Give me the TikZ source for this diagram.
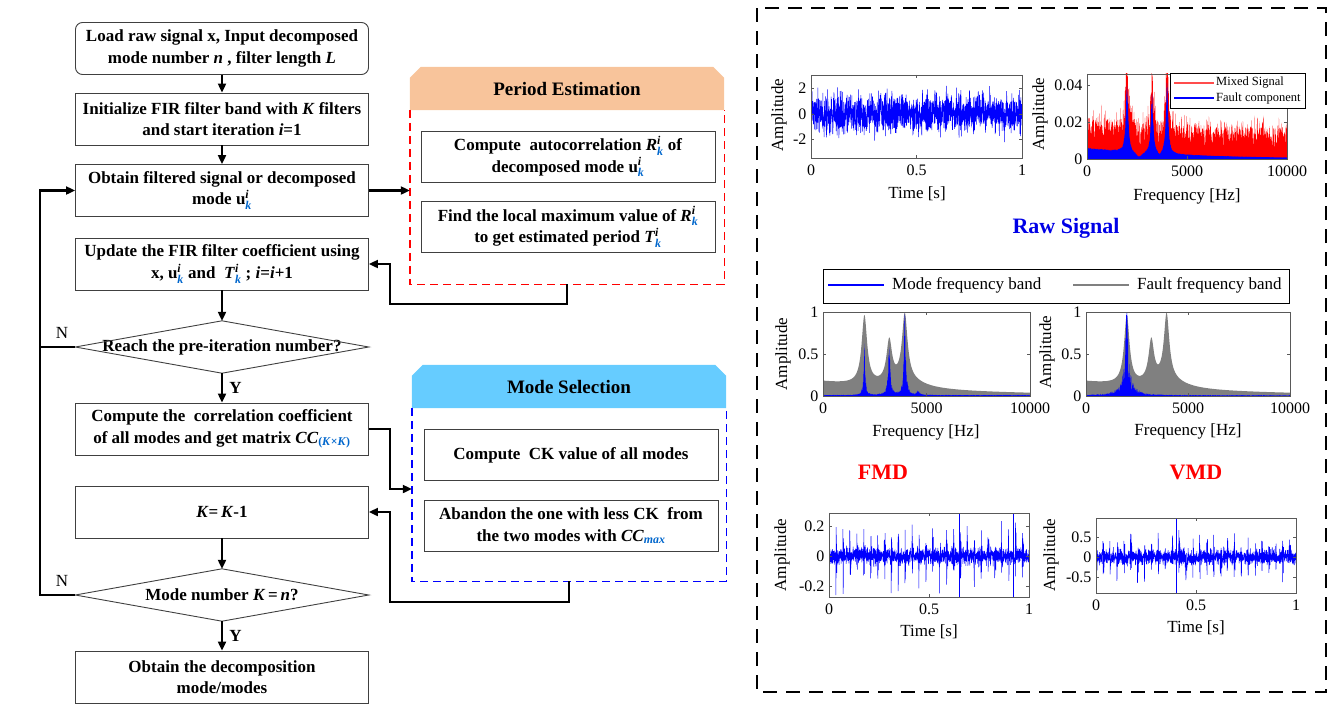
\documentclass[tikz,border=0pt]{standalone}
\usepackage{amsmath}
\usepackage{xcolor}
\usepackage{fontspec}
\setmainfont{Liberation Serif}
\usepackage{tikz}
\usetikzlibrary{arrows.meta,calc,backgrounds}

\definecolor{kblue}{RGB}{0,102,204}
\definecolor{peach}{RGB}{248,196,155}
\definecolor{skyhead}{RGB}{102,204,255}
\definecolor{sigblue}{RGB}{0,0,255}
\definecolor{bandgray}{RGB}{128,128,128}
\definecolor{titleblue}{RGB}{0,0,230}

\newcommand{\flowfont}{\fontsize{17}{21.5}\selectfont\bfseries}
\newcommand{\headfont}{\fontsize{19}{22}\selectfont\bfseries}
\newcommand{\labfont}{\fontsize{17}{20}\selectfont}
\newcommand{\tickfont}{\fontsize{16}{18}\selectfont}
\newcommand{\legfont}{\fontsize{12.5}{14}\selectfont}
\newcommand{\bigfont}{\fontsize{22}{24}\selectfont\bfseries}
\newcommand{\ki}{$^{\text{\textit{i}}}_{\text{\textcolor{kblue}{\textit{k}}}}$}

\tikzset{
  flowbox/.style={draw=black!75, line width=0.9pt, minimum width=293pt, minimum height=52pt,
    align=center, font=\flowfont, inner sep=0pt},
  startbox/.style={flowbox, rounded corners=7pt},
  choice/.style={minimum width=293pt, minimum height=52pt, align=center, font=\flowfont, inner sep=0pt},
  innerbox/.style={flowbox, minimum width=294pt, minimum height=51pt},
  groupbox/.style={minimum width=314pt, minimum height=174pt, inner sep=0pt},
  headbox/.style={minimum width=314pt, minimum height=43pt, inner sep=0pt, font=\headfont},
  flowline/.style={line width=2.1pt},
  flowarrow/.style={flowline, -{Triangle[length=9pt,width=8pt]}},
  groupline/.style={dash pattern=on 8pt off 5pt, line width=1.4pt},
  axisline/.style={black!65, line width=0.8pt},
  signal/.style={sigblue, line width=0.5pt},
}

\pgfmathsetseed{11}

\begin{document}
\begin{tikzpicture}[x=1pt,y=-1pt,
  declare function={
    lor(\f,\a,\c,\w)=\a*\w*\w/(\w*\w+(\f-\c)*(\f-\c));
    rawfault(\f)=lor(\f,3.9,2,0.07)+lor(\f,3.2,3.25,0.07)+lor(\f,3.9,4,0.07)+0.62*exp(-\f/5)*(1-lor(\f,0.85,2.6,0.2)-lor(\f,0.8,3.63,0.12));
    band(\f)=lor(\f,0.81,2,0.16)+lor(\f,0.49,3.2,0.16)+lor(\f,0.78,3.95,0.16)+lor(\f,0.1,4,1)+0.16*exp(-\f/5.5)+0.01;
    fmdband(\f)=lor(\f,0.62,2,0.045)+lor(\f,0.62,3.2,0.065)+lor(\f,1.05,3.95,0.055)+lor(\f,0.05,4.6,0.08)+0.012;
    vmdband(\f)=lor(\f,0.95,2,0.06)+lor(\f,0.25,2,0.3)+0.01;
    pulse(\t)=max(0,1-mod(\t,0.0345)/0.008);
  }]
  \useasboundingbox (0,0) rectangle (1335,707);

  % flow chart
  \node[startbox] (b1) at (222,48.5) {Load raw signal x, Input decomposed\\mode number \textit{n} , filter length \textit{L}};
  \node[flowbox] (b2) at (222,119) {Initialize FIR filter band with \textit{K} filters\\and start iteration \textit{i}=1};
  \node[flowbox] (b3) at (222,190.5) {Obtain filtered signal or decomposed\\mode u\ki};
  \node[flowbox] (b4) at (222,264) {Update the FIR filter coefficient using\\x,\ u\ki\ and\ \ \textit{T}\ki\ ; \textit{i}=\textit{i}+1};
  \node[choice] (d1) at (222,347) {Reach the pre-iteration number?};
  \draw[black!75,line width=0.9pt] (d1.west) -- (d1.north) -- (d1.east) -- (d1.south) -- cycle;
  \node[flowbox] (b5) at (222,429) {Compute the\ \ correlation coefficient\\of all modes and get matrix \textit{CC}$_{\text{\textcolor{kblue}{(\textit{K}×\textit{K})}}}$};
  \node[flowbox] (b6) at (222,512) {\textit{K}=\,\textit{K}-1};
  \node[choice] (d2) at (222,595) {Mode number \textit{K}\,=\,\textit{n}?};
  \draw[black!75,line width=0.9pt] (d2.west) -- (d2.north) -- (d2.east) -- (d2.south) -- cycle;
  \node[flowbox] (b7) at (222,677) {Obtain the decomposition\\mode/modes};

  \draw[flowarrow] (b1) -- (b2);
  \draw[flowarrow] (b2) -- (b3);
  \draw[flowarrow] (b4) -- (d1.north);
  \draw[flowarrow] (d1.south) -- node[right=3pt,font=\labfont\bfseries] (y1) {Y} (b5);
  \draw[flowarrow] (b6) -- (d2.north);
  \draw[flowarrow] (d2.south) -- node[right=3pt,font=\labfont\bfseries] (y2) {Y} (b7);

  \coordinate (loopup) at (40,347);
  \coordinate (loopdn) at (40,595);
  \draw[flowline] (d2.west) -- (loopdn) -- (loopup);
  \draw[flowarrow] (d1.west) -- (loopup) |- (b3.west);
  \node[font=\labfont] (n1) at (62,333) {N};
  \node[font=\labfont] (n2) at (62,581) {N};

  % period estimation
  \node[groupbox] (pebox) at (567,197) {};
  \draw[groupline,red] (pebox.north west) -- (pebox.south west) -- (pebox.south east) -- (pebox.north east);
  \node[headbox] (pehead) at (567,88.5) {Period Estimation};
  \begin{scope}[on background layer]
    \fill[peach] (pehead.south west) -- ($(pehead.north west)+(0,11)$) -- ($(pehead.north west)+(11,0)$)
      -- ($(pehead.north east)+(-11,0)$) -- ($(pehead.north east)+(0,11)$) -- (pehead.south east) -- cycle;
  \end{scope}
  \node[innerbox] (pe1) at (568,156.5) {Compute\ \ autocorrelation \textit{R}\ki\ of\\decomposed mode u\ki};
  \node[innerbox] (pe2) at (568,227) {Find the local maximum value of \textit{R}\ki\\to get estimated period \textit{T}\ki};

  \draw[flowarrow] (b3.east) -- (b3.east -| pebox.west);
  \coordinate (peret) at (390,304);
  \draw[flowarrow] (pebox.south) |- (peret) |- (b4.east);

  % mode selection
  \node[groupbox,minimum height=173pt] (msbox) at (569,494.5) {};
  \draw[groupline,blue] (msbox.north west) -- (msbox.south west) -- (msbox.south east) -- (msbox.north east);
  \node[headbox] (mshead) at (569,386.5) {Mode Selection};
  \begin{scope}[on background layer]
    \fill[skyhead] (mshead.south west) -- ($(mshead.north west)+(0,11)$) -- ($(mshead.north west)+(11,0)$)
      -- ($(mshead.north east)+(-11,0)$) -- ($(mshead.north east)+(0,11)$) -- (mshead.south east) -- cycle;
  \end{scope}
  \node[innerbox] (ms1) at (571,455) {Compute\ \ CK value of all modes};
  \node[innerbox] (ms2) at (571,526) {Abandon the one with less CK\ \ from\\the two modes with \textit{CC}$_{\text{\textcolor{kblue}{\textit{max}}}}$};

  \coordinate (msin) at (390,489);
  \draw[flowarrow] (b5.east) -| (msin) -- (msin -| msbox.west);
  \coordinate (msret) at (390,602);
  \draw[flowarrow] (msbox.south) |- (msret) |- (b6.east);

  % results panel
  \draw[line width=1.8pt,dash pattern=on 14pt off 9pt] (757,8) rectangle (1326,692);

  % raw signal, time
  \begin{scope}[shift={(811,114)},x=211pt,y=12.75pt]
    \begin{scope}
      \clip (0,-3.45) rectangle (1,3.06);
      \draw[signal] plot[samples=1500,domain=0:1] (\x,{0.68*(rand+rand+rand+rand)});
    \end{scope}
    \draw[axisline] (0,-3.45) rectangle (1,3.06);
    \foreach \t/\s [count=\c] in {0/0,0.5/0.5,1/1}{
      \draw[axisline] (\t,-3.45) -- ++(0,3pt) (\t,3.06) -- ++(0,-3pt);
      \node[below=3pt,font=\tickfont] (atx\c) at (\t,-3.45) {\s};
    }
    \foreach \v/\s [count=\c] in {-2/-2,0/0,2/2}{
      \draw[axisline] (0,\v) -- ++(3pt,0) (1,\v) -- ++(-3pt,0);
      \node[left=1pt,font=\tickfont] (aty\c) at (0,\v) {\s};
    }
  \end{scope}
  \node[font=\labfont] (alx) at (917,194) {Time [s]};
  \node[font=\labfont,rotate=90] (aly) at (779,115) {Amplitude};

  % raw signal, spectrum
  \begin{scope}[shift={(1087,159)},x=20pt,y=18.5pt]
    \begin{scope}
      \clip (0,0) rectangle (10,4.6);
      \fill[red] (0,0) -- plot[samples=801,domain=0:10] (\x,{rawfault(\x)+0.45+1.2*rnd+0.8*rnd^4}) -- (10,0) -- cycle;
      \fill[sigblue] (0,0) -- plot[samples=1001,domain=0:10] (\x,{rawfault(\x)*(0.85+0.15*rnd)}) -- (10,0) -- cycle;
    \end{scope}
    \draw[axisline] (0,0) rectangle (10,4.6);
    \foreach \t/\s [count=\c] in {0/0,5/5000,10/10000}{
      \draw[axisline] (\t,0) -- ++(0,3pt) (\t,4.6) -- ++(0,-3pt);
      \node[below=3pt,font=\tickfont] (btx\c) at (\t,0) {\s};
    }
    \foreach \v/\s [count=\c] in {0/0,2/0.02,4/0.04}{
      \draw[axisline] (0,\v) -- ++(3pt,0) (10,\v) -- ++(-3pt,0);
      \node[left=1pt,font=\tickfont] (bty\c) at (0,\v) {\s};
    }
  \end{scope}
  \node[font=\labfont] (blx) at (1187,196) {Frequency [Hz]};
  \node[font=\labfont,rotate=90] (bly) at (1040,114) {Amplitude};
  \draw[black,fill=white,line width=0.8pt] (1170,73) rectangle (1305,108);
  \draw[red!70,line width=1.2pt] (1174,83) -- (1214,83);
  \node[font=\legfont,anchor=west,inner sep=1pt] (bl1) at (1215,83) {Mixed Signal};
  \draw[sigblue,line width=1.2pt] (1174,98) -- (1214,98);
  \node[font=\legfont,anchor=west,inner sep=1pt] (bl2) at (1215,98) {Fault component};

  \node[font=\bigfont,text=titleblue] (rawtitle) at (1066,228) {Raw Signal};

  % band legend
  \draw[black,line width=0.8pt] (823,269) rectangle (1289,303);
  \draw[sigblue,line width=2.2pt] (828,285) -- (884,285);
  \node[font=\labfont,anchor=west,inner sep=1pt] (lg1) at (891,285) {Mode frequency band};
  \draw[bandgray,line width=2.2pt] (1073,285) -- (1129,285);
  \node[font=\labfont,anchor=west,inner sep=1pt] (lg2) at (1136,285) {Fault frequency band};

  % FMD spectrum
  \begin{scope}[shift={(823,396)},x=20.7pt,y=84pt]
    \begin{scope}
      \clip (0,0) rectangle (10,1);
      \fill[bandgray] (0,0) -- plot[samples=501,domain=0:10] (\x,{band(\x)}) -- (10,0) -- cycle;
      \fill[sigblue] (0,0) -- plot[samples=1001,domain=0:10] (\x,{fmdband(\x)*(0.5+0.5*rnd)}) -- (10,0) -- cycle;
    \end{scope}
    \draw[axisline] (0,0) rectangle (10,1);
    \foreach \t/\s [count=\c] in {0/0,5/5000,10/10000}{
      \draw[axisline] (\t,0) -- ++(0,3pt) (\t,1) -- ++(0,-3pt);
      \node[below=3pt,font=\tickfont] (ctx\c) at (\t,0) {\s};
    }
    \foreach \v/\s [count=\c] in {0/0,0.5/0.5,1/1}{
      \draw[axisline] (0,\v) -- ++(3pt,0) (10,\v) -- ++(-3pt,0);
      \node[left=1pt,font=\tickfont] (cty\c) at (0,\v) {\s};
    }
  \end{scope}
  \node[font=\labfont] (clx) at (926,432) {Frequency [Hz]};
  \node[font=\labfont,rotate=90] (cly) at (783,354) {Amplitude};

  % VMD spectrum
  \begin{scope}[shift={(1086,396)},x=20.4pt,y=84pt]
    \begin{scope}
      \clip (0,0) rectangle (10,1);
      \fill[bandgray] (0,0) -- plot[samples=501,domain=0:10] (\x,{band(\x)}) -- (10,0) -- cycle;
      \fill[sigblue] (0,0) -- plot[samples=1001,domain=0:10] (\x,{vmdband(\x)*(0.25+0.75*rnd)}) -- (10,0) -- cycle;
    \end{scope}
    \draw[axisline] (0,0) rectangle (10,1);
    \foreach \t/\s [count=\c] in {0/0,5/5000,10/10000}{
      \draw[axisline] (\t,0) -- ++(0,3pt) (\t,1) -- ++(0,-3pt);
      \node[below=3pt,font=\tickfont] (dtx\c) at (\t,0) {\s};
    }
    \foreach \v/\s [count=\c] in {0/0,0.5/0.5,1/1}{
      \draw[axisline] (0,\v) -- ++(3pt,0) (10,\v) -- ++(-3pt,0);
      \node[left=1pt,font=\tickfont] (dty\c) at (0,\v) {\s};
    }
  \end{scope}
  \node[font=\labfont] (dlx) at (1188,431) {Frequency [Hz]};
  \node[font=\labfont,rotate=90] (dly) at (1047,352) {Amplitude};

  \node[font=\bigfont,text=red] (fmdtitle) at (883,472) {FMD};
  \node[font=\bigfont,text=red] (vmdtitle) at (1196,472) {VMD};

  % FMD time
  \begin{scope}[shift={(829,556)},x=200pt,y=150pt]
    \begin{scope}
      \clip (0,-0.273) rectangle (1,0.287);
      \draw[signal] plot[samples=1500,domain=0:1] (\x,{0.028*(rand+rand+rand)+0.26*pulse(\x)*rand});
      \draw[signal,line width=0.9pt] (0.65,-0.273) -- (0.65,0.287) (0.92,-0.273) -- (0.92,0.287);
    \end{scope}
    \draw[axisline] (0,-0.273) rectangle (1,0.287);
    \foreach \t/\s [count=\c] in {0/0,0.5/0.5,1/1}{
      \draw[axisline] (\t,-0.273) -- ++(0,3pt) (\t,0.287) -- ++(0,-3pt);
      \node[below=3pt,font=\tickfont] (etx\c) at (\t,-0.273) {\s};
    }
    \foreach \v/\s [count=\c] in {-0.2/-0.2,0/0,0.2/0.2}{
      \draw[axisline] (0,\v) -- ++(3pt,0) (1,\v) -- ++(-3pt,0);
      \node[left=1pt,font=\tickfont] (ety\c) at (0,\v) {\s};
    }
  \end{scope}
  \node[font=\labfont] (elx) at (929,632) {Time [s]};
  \node[font=\labfont,rotate=90] (ely) at (782,555) {Amplitude};

  % VMD time
  \begin{scope}[shift={(1096,557)},x=200pt,y=40pt]
    \begin{scope}
      \clip (0,-0.9) rectangle (1,0.975);
      \draw[signal] plot[samples=1500,domain=0:1] (\x,{0.095*(rand+rand+rand)+0.75*pulse(\x)*rand});
      \draw[signal,line width=0.9pt] (0.4,-0.9) -- (0.4,0.975);
    \end{scope}
    \draw[axisline] (0,-0.9) rectangle (1,0.975);
    \foreach \t/\s [count=\c] in {0/0,0.5/0.5,1/1}{
      \draw[axisline] (\t,-0.9) -- ++(0,3pt) (\t,0.975) -- ++(0,-3pt);
      \node[below=3pt,font=\tickfont] (ftx\c) at (\t,-0.9) {\s};
    }
    \foreach \v/\s [count=\c] in {-0.5/-0.5,0/0,0.5/0.5}{
      \draw[axisline] (0,\v) -- ++(3pt,0) (1,\v) -- ++(-3pt,0);
      \node[left=1pt,font=\tickfont] (fty\c) at (0,\v) {\s};
    }
  \end{scope}
  \node[font=\labfont] (flx) at (1196,628) {Time [s]};
  \node[font=\labfont,rotate=90] (fly) at (1051,555) {Amplitude};
\end{tikzpicture}
\end{document}
